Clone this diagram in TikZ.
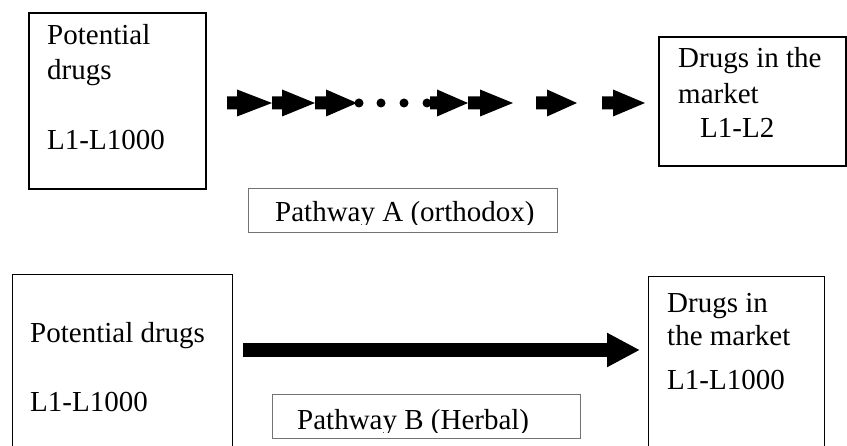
\documentclass[tikz,border=0pt]{standalone}
\usepackage{fontspec}
\setmainfont{Liberation Serif}
\usetikzlibrary{positioning, arrows.meta}

\begin{document}
\begin{tikzpicture}[
                    x=1pt, y=-1pt,
                    font=\fontsize{29}{35}\selectfont,
                    box/.style={draw, line width=2pt, inner sep=0pt, anchor=north west},
                    tag/.style={draw=black!55, line width=1pt, inner sep=0pt, anchor=north west},
                    txt/.style={anchor=base west, inner sep=0pt},
                    >={Triangle[length=33pt, width=32pt]}
                ]
                    \useasboundingbox (0,0) rectangle (847,446);
                    \clip (0,0) rectangle (847,446);
                    % pathway A
                    \node[box, minimum width=177pt, minimum height=176pt] (potA) at (28,12) {};
                    \node[box, minimum width=187pt, minimum height=129pt] (mktA) at (658,36) {};
                    \node[tag, minimum width=309pt, minimum height=44pt] (tagA) at (248,188) {};
                    \node[txt] (potA1) at (47,45) {Potential};
                    \node[txt] (potA2) at (47,80) {drugs};
                    \node[txt] (potA3) at (47,150) {L1-L1000};
                    \node[txt] (mktA1) at (678,68) {Drugs in the};
                    \node[txt] (mktA2) at (678,104) {market};
                    \node[txt] (mktA3) at (700,138) {L1-L2};
                    \begin{scope}
                        \clip (tagA.north west) rectangle ([yshift=8.5pt]tagA.south east);
                        \node[txt] (tagA1) at (275,222) {Pathway A (orthodox)};
                    \end{scope}
                    \foreach \a/\b/\c in {227/237/272, 272/282/315, 315/326/357, 430/437/468, 468/480/513, 536/547/577, 602/613/645}
                        \fill (\a,96.5) -- (\b,96.5) -- (\b,89.5) -- (\c,103) -- (\b,116.5) -- (\b,109.5) -- (\a,109.5) -- cycle;
                    \foreach \d in {359,381,404,427}
                        \fill (\d,103) circle (4.5pt);
                    % pathway B
                    \node[box, line width=1.3pt, minimum width=220pt, minimum height=200pt] (potB) at (12,274) {};
                    \node[box, line width=1.3pt, minimum width=176pt, minimum height=200pt] (mktB) at (648,276) {};
                    \node[tag, minimum width=308pt, minimum height=44pt] (tagB) at (272,394) {};
                    \node[txt] (potB1) at (30,343) {Potential drugs};
                    \node[txt] (potB2) at (30,412) {L1-L1000};
                    \node[txt] (mktB1) at (667,313) {Drugs in};
                    \node[txt] (mktB2) at (667,346) {the market};
                    \node[txt] (mktB3) at (667,390) {L1-L1000};
                    \begin{scope}
                        \clip (tagB.north west) rectangle ([yshift=6.5pt]tagB.south east);
                        \node[txt] (tagB1) at (297,430) {Pathway B (Herbal)};
                    \end{scope}
                    \coordinate (bS) at (243,350);
                    \coordinate (bE) at (640,350);
                    \draw[->, line width=14pt] (bS) -- (bE);
                \end{tikzpicture}
\end{document}
